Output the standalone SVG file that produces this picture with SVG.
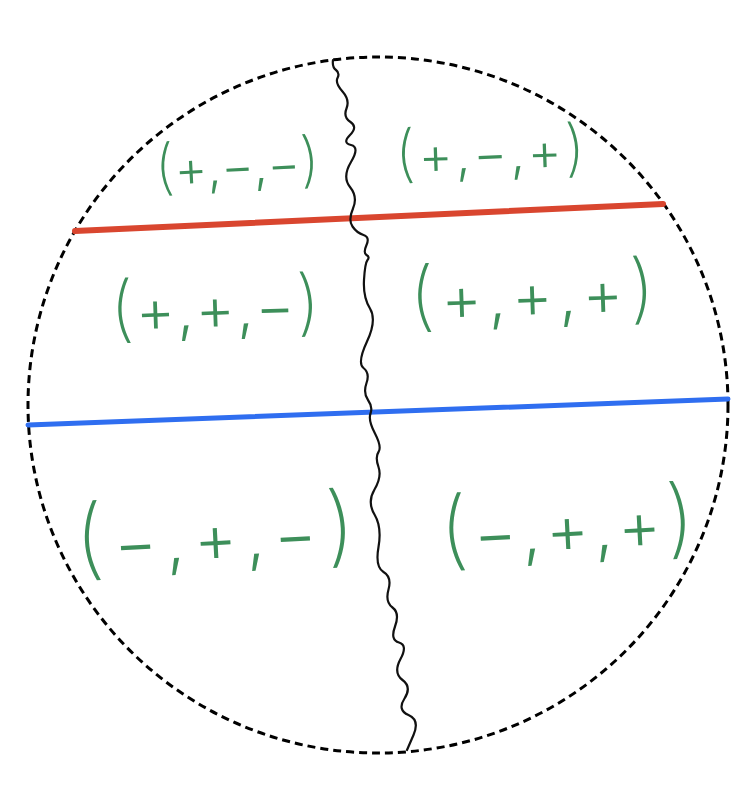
<svg xmlns="http://www.w3.org/2000/svg" width="740" height="797" viewBox="0 0 740 797">
<style>
.lbl{font-family:Inter,"Open Sans","Liberation Sans",sans-serif;font-weight:300;fill:#3d8f5a;text-anchor:middle}
.p{font-weight:200}
</style>
<rect width="740" height="797" fill="#fff"/>
<g id="boundary">
<ellipse cx="378" cy="405" rx="350" ry="348" fill="none" stroke="#000" stroke-width="3" stroke-dasharray="8 5"/>
</g>
<g id="connectors">
<line id="red-line" x1="75" y1="231" x2="663" y2="204" stroke="#d9462f" stroke-width="6" stroke-linecap="round"/>
<line id="blue-line" x1="28" y1="425" x2="728" y2="399" stroke="#2f6ef0" stroke-width="5" stroke-linecap="round"/>
<path id="wavy" fill="none" stroke="#111" stroke-width="2.2" stroke-linejoin="round" stroke-linecap="round"
d="M333,60 Q332,67 336,70 Q340,73 337.5,78 Q335,83 342.5,91.5 Q350,100 346.5,108.5 Q343,117 350.5,122 Q358,127 350,135 Q342,143 351,145 Q360,147 351,162 Q342,177 350,187 Q358,197 353,208.5 Q348,220 352.5,226.5 Q357,233 363.5,235 Q370,237 366.5,245 Q363,253 366.5,255 Q370,257 367.5,260 Q365,263 364,280 Q363,297 370,308.5 Q377,320 367,341.5 Q357,363 363.5,368 Q370,373 366.5,383 Q363,393 368,400 Q373,407 370.5,413.5 Q368,420 375,433.5 Q382,447 378.5,452 Q375,457 378.5,467 Q382,477 374.5,489.5 Q367,502 374.5,514.5 Q382,527 378.5,547 Q375,567 383.5,572 Q392,577 388.5,589.5 Q385,602 392.5,607.5 Q400,613 395,626.5 Q390,640 399,642.5 Q408,645 400.5,659 Q393,673 402.5,680 Q412,687 404.5,698.5 Q397,710 408.5,715 Q420,720 413.5,735 L407,750"/>
</g>
<g id="region-top-left" transform="rotate(-3 237 160)">
<text class="lbl" x="237" y="184" textLength="165" lengthAdjust="spacing"><tspan class="p" font-size="60">(</tspan><tspan font-size="50">+,−,−</tspan><tspan class="p" font-size="60">)</tspan></text>
</g>
<g id="region-top-right" transform="rotate(-2 490 150)">
<text class="lbl" x="490" y="172" textLength="190" lengthAdjust="spacing"><tspan class="p" font-size="62">(</tspan><tspan font-size="52">+,−,+</tspan><tspan class="p" font-size="62">)</tspan></text>
</g>
<g id="region-mid-left" transform="rotate(-2 215 305)">
<text class="lbl" x="215" y="330" textLength="210" lengthAdjust="spacing"><tspan class="p" font-size="72">(</tspan><tspan font-size="60">+,+,−</tspan><tspan class="p" font-size="72">)</tspan></text>
</g>
<g id="region-mid-right" transform="rotate(-2 532 290)">
<text class="lbl" x="532" y="318" textLength="245" lengthAdjust="spacing"><tspan class="p" font-size="76">(</tspan><tspan font-size="62">+,+,+</tspan><tspan class="p" font-size="76">)</tspan></text>
</g>
<g id="region-bottom-left" transform="rotate(-3 215 535)">
<text class="lbl" x="215" y="562" textLength="280" lengthAdjust="spacing"><tspan class="p" font-size="88">(</tspan><tspan font-size="66">−,+,−</tspan><tspan class="p" font-size="88">)</tspan></text>
</g>
<g id="region-bottom-right" transform="rotate(-3 567 525)">
<text class="lbl" x="567" y="553" textLength="255" lengthAdjust="spacing"><tspan class="p" font-size="86">(</tspan><tspan font-size="66">−,+,+</tspan><tspan class="p" font-size="86">)</tspan></text>
</g>
</svg>
